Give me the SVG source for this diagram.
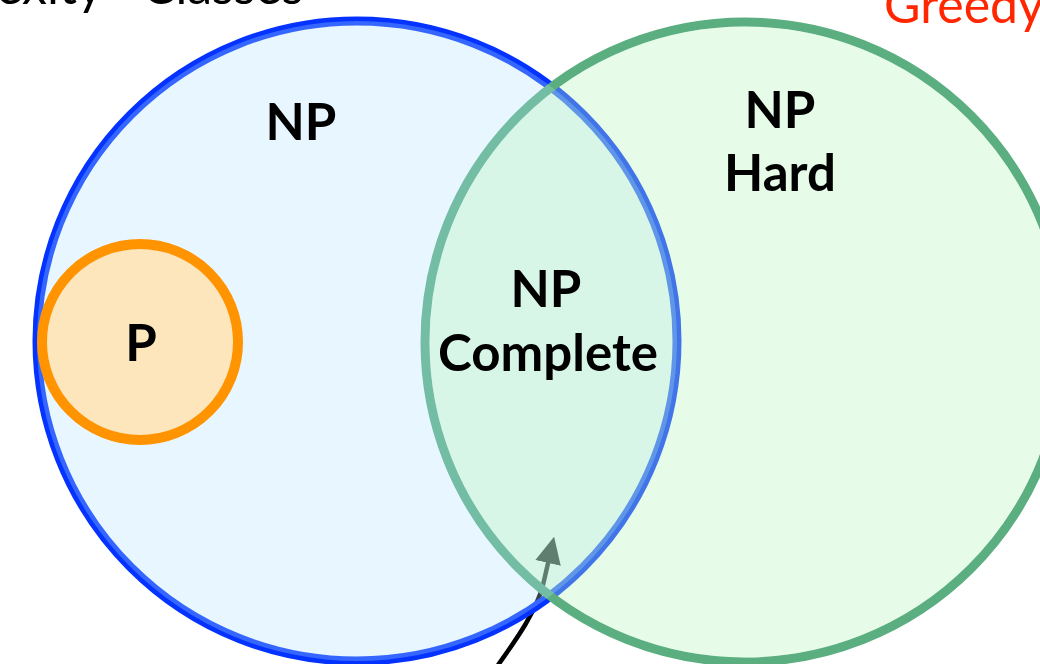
<svg xmlns="http://www.w3.org/2000/svg" width="1040" height="664" viewBox="0 0 1040 664">
  <defs>
    <marker id="arrowhead" markerUnits="userSpaceOnUse" markerWidth="28" markerHeight="26" viewBox="0 0 28 26" refX="2" refY="13" orient="auto">
      <path d="M0,0 L27,13 L0,26 z" fill="#000"/>
    </marker>
    <style>
      .lbl { font-family: Lato, "Open Sans", "DejaVu Sans", sans-serif; font-weight: 700; font-size: 51px; fill: #000; text-anchor: middle; }
      .title { font-family: Lato, "Open Sans", "DejaVu Sans", sans-serif; font-weight: 400; font-size: 50px; }
      .ring { fill: none; stroke-width: 9; }
    </style>
  </defs>
  <rect width="1040" height="664" fill="#fff"/>

  <g id="connectors">
    <path d="M 496 668 C 512 645, 535 615, 543 585 L 548.5 561" fill="none" stroke="#000" stroke-width="4.5" marker-end="url(#arrowhead)"/>
  </g>

  <g id="NP">
    <circle class="ring" cx="357" cy="341" r="320" stroke="#0433ff"/>
  </g>
  <g id="NP-Hard">
    <circle class="ring" cx="745" cy="342" r="320" stroke="#5bae7f"/>
  </g>
  <g id="fills">
    <circle cx="357" cy="341" r="320" fill="#b0e4ff" fill-opacity="0.29"/>
    <circle cx="745" cy="342" r="315.5" fill="#b6f4bc" fill-opacity="0.34"/>
  </g>
  <g id="P">
    <circle cx="140" cy="342" r="98" fill="#fee6bc" stroke="#ff9300" stroke-width="10"/>
    <text class="lbl" x="141" y="361">P</text>
  </g>

  <g id="labels">
    <text class="lbl" x="301" y="140">NP</text>
    <text class="lbl" x="780" y="128">NP</text>
    <text class="lbl" x="780" y="191">Hard</text>
    <text class="lbl" x="546" y="307">NP</text>
    <text class="lbl" x="548" y="371">Complete</text>
  </g>

  <g id="titles">
    <text class="title" x="-4" y="4" fill="#000">exity <tspan x="142">Classes</tspan></text>
    <text class="title" x="884" y="23" fill="#ff2600" font-size="47">Greedy</text>
  </g>
</svg>
